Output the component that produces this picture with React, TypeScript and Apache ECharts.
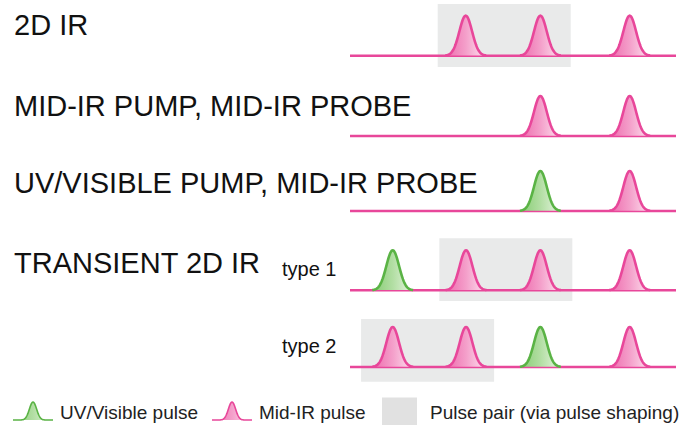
import React, { useEffect, useRef } from "react";
import * as echarts from "echarts";

// ---- data ----
const rowLabels = ["2D IR", "MID-IR PUMP, MID-IR PROBE", "UV/VISIBLE PUMP, MID-IR PROBE", "TRANSIENT 2D IR"];
const subLabels = ["type 1", "type 2"];
const legendLabels = ["UV/Visible pulse", "Mid-IR pulse", "Pulse pair (via pulse shaping)"];
// pulses per row: [time, amplitude, kind]  kind 0 = mid-IR, 1 = UV/visible
const row1Pulses = [[35.5, 1, 0], [58.4, 1, 0], [85.8, 1, 0]];
const row2Pulses = [[58.4, 1, 0], [85.8, 1, 0]];
const row3Pulses = [[58.4, 1, 1], [85.8, 1, 0]];
const row4Pulses = [[13.1, 1, 1], [35.6, 1, 0], [58.4, 1, 0], [85.8, 1, 0]];
const row5Pulses = [[13.1, 1, 0], [35.6, 1, 0], [58.4, 1, 1], [85.8, 1, 0]];
// pulse pair boxes per row: [tStart, tEnd, yLow, yHigh]
const row1Pairs = [[26.9, 67.7, -0.28, 1.29]];
const row2Pairs: number[][] = [];
const row3Pairs: number[][] = [];
const row4Pairs = [[27.4, 68.2, -0.27, 1.3]];
const row5Pairs = [[3.4, 44.2, -0.37, 1.2]];
const timeLine = [[0, 0], [100, 0]];

const rowsPulses = [row1Pulses, row2Pulses, row3Pulses, row4Pulses, row5Pulses];
const rowsPairs = [row1Pairs, row2Pairs, row3Pairs, row4Pairs, row5Pairs];

// ---- styles / layout ----
const baselines = [55.7, 136, 211, 290.3, 367];
const PX_PER_UNIT = 40;
const Y_MIN = -0.4;
const Y_MAX = 1.32;
const SIGMA = 1.96; // pulse width in time units
const PINK = "#e8479a";
const GREEN = "#5ab345";
const BOX = "#e9eaea";
const FONT = "'Liberation Sans', Arial, Helvetica, sans-serif";

const pinkFill = () =>
  new echarts.graphic.LinearGradient(0, 0, 1, 0, [
    { offset: 0, color: "#ee6aad" },
    { offset: 0.5, color: "#f49fca" },
    { offset: 1, color: "#fde2ef" },
  ]);
const greenFill = () =>
  new echarts.graphic.LinearGradient(0, 0, 1, 0, [
    { offset: 0, color: "#86cc72" },
    { offset: 0.5, color: "#b2dea3" },
    { offset: 1, color: "#e8f5e2" },
  ]);

function glyph(cx: number, by: number, h: number, sigma: number, half: number) {
  const pts: number[][] = [];
  const N = 40;
  for (let i = -N; i <= N; i++) {
    const dx = (i / N) * half;
    pts.push([cx + dx, by - h * Math.exp(-(dx * dx) / (2 * sigma * sigma))]);
  }
  return pts;
}

const renderPulse = (params: any, api: any) => {
  const t = api.value(0);
  const amp = api.value(1);
  const kind = api.value(2);
  const base = api.coord([t, 0]);
  const top = api.coord([t, amp]);
  const h = base[1] - top[1];
  const s = api.size([SIGMA, 0])[0];
  const pts = glyph(base[0], base[1], h, s, 3.2 * s);
  return {
    type: "group",
    children: [
      { type: "polygon", shape: { points: pts }, style: { fill: kind === 1 ? greenFill() : pinkFill(), stroke: "none" } },
      { type: "polyline", shape: { points: pts }, style: { stroke: kind === 1 ? GREEN : PINK, lineWidth: 2.6, fill: "none" } },
    ],
  };
};

const renderBox = (params: any, api: any) => {
  const p1 = api.coord([api.value(0), api.value(3)]);
  const p2 = api.coord([api.value(1), api.value(2)]);
  return { type: "rect", shape: { x: p1[0], y: p1[1], width: p2[0] - p1[0], height: p2[1] - p1[1] }, style: { fill: BOX } };
};

export default function App() {
  const ref = useRef<HTMLDivElement>(null);
  useEffect(() => {
    if (!ref.current) return;
    const chart = echarts.init(ref.current, undefined, { renderer: "svg" });
    const grids: any[] = [];
    const xAxes: any[] = [];
    const yAxes: any[] = [];
    const series: any[] = [];
    baselines.forEach((b, i) => {
      grids.push({ left: 350, width: 326, top: b - Y_MAX * PX_PER_UNIT, height: (Y_MAX - Y_MIN) * PX_PER_UNIT });
      xAxes.push({ gridIndex: i, type: "value", min: 0, max: 100, show: false });
      yAxes.push({ gridIndex: i, type: "value", min: Y_MIN, max: Y_MAX, show: false });
      if (rowsPairs[i].length) {
        series.push({ type: "custom", xAxisIndex: i, yAxisIndex: i, renderItem: renderBox, data: rowsPairs[i], z: 1, silent: true, clip: false });
      }
      series.push({
        type: "line", xAxisIndex: i, yAxisIndex: i, data: timeLine, symbol: "none", z: 2, silent: true,
        lineStyle: { color: PINK, width: 2.6 },
      });
      series.push({ type: "custom", xAxisIndex: i, yAxisIndex: i, renderItem: renderPulse, data: rowsPulses[i], z: 3, silent: true, clip: false });
    });

    const labelY = [24.5, 106, 182.5, 263];
    const graphics: any[] = rowLabels.map((t, i) => ({
      type: "text", left: undefined, x: 14, y: labelY[i],
      style: { text: t, fontSize: 29, fontFamily: FONT, fill: "#111", verticalAlign: "middle", align: "left" },
    }));
    const subY = [269.2, 345.5];
    subLabels.forEach((t, i) =>
      graphics.push({ type: "text", x: 282, y: subY[i], style: { text: t, fontSize: 20, fontFamily: FONT, fill: "#111", verticalAlign: "middle" } })
    );
    // legend
    const gPts = glyph(33, 420, 18, 3.6, 20);
    const pPts = glyph(232, 420, 18, 3.6, 20);
    graphics.push({ type: "polygon", shape: { points: gPts }, style: { fill: greenFill(), stroke: "none" } });
    graphics.push({ type: "polyline", shape: { points: gPts }, style: { stroke: GREEN, lineWidth: 1.6, fill: "none" } });
    graphics.push({ type: "polygon", shape: { points: pPts }, style: { fill: pinkFill(), stroke: "none" } });
    graphics.push({ type: "polyline", shape: { points: pPts }, style: { stroke: PINK, lineWidth: 1.6, fill: "none" } });
    graphics.push({ type: "rect", shape: { x: 382, y: 397.5, width: 35, height: 27.5 }, style: { fill: "#e1e1e1" } });
    const legX = [60, 259, 430];
    legendLabels.forEach((t, i) =>
      graphics.push({ type: "text", x: legX[i], y: 412.5, style: { text: t, fontSize: 19, fontFamily: FONT, fill: "#222", verticalAlign: "middle" } })
    );

    chart.setOption({
      animation: false,
      backgroundColor: "#ffffff",
      grid: grids,
      xAxis: xAxes,
      yAxis: yAxes,
      series,
      graphic: graphics,
    });
    return () => chart.dispose();
  }, []);
  return <div ref={ref} style={{ position: "fixed", left: 0, top: 0, width: 689, height: 426 }} />;
}
